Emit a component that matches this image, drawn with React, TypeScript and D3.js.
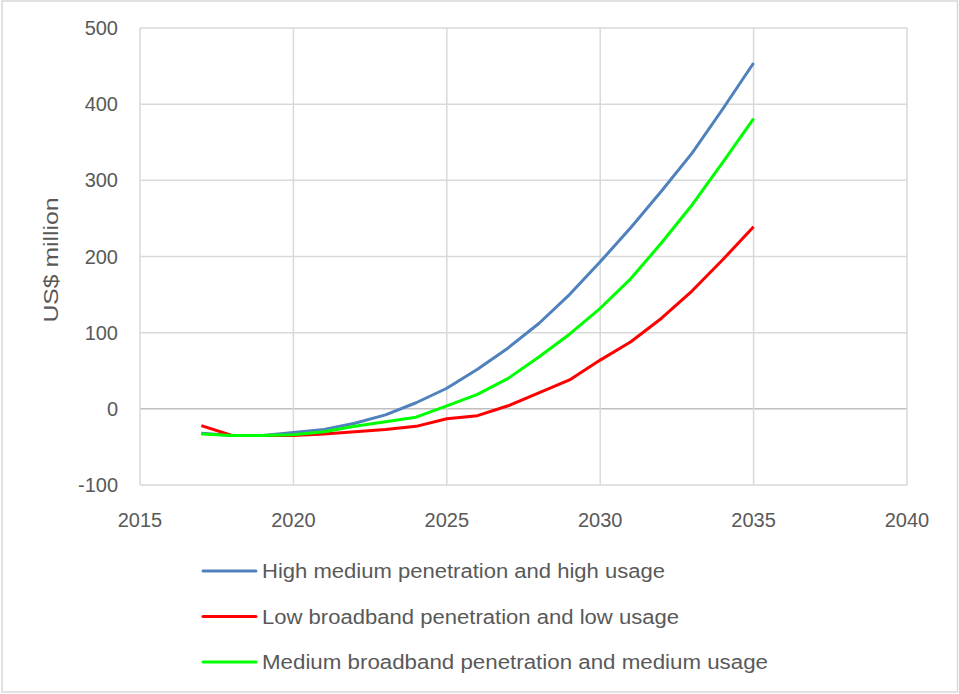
import React from "react";
import * as d3 from "d3";

const years = [2017, 2018, 2019, 2020, 2021, 2022, 2023, 2024, 2025, 2026, 2027, 2028, 2029, 2030, 2031, 2032, 2033, 2034, 2035];
const highSeries = [-32, -35, -35, -31, -27, -19, -8, 8, 27, 52, 80, 112, 150, 193, 238, 286, 336, 394, 454];
const lowSeries = [-22, -35, -35, -35, -33, -30, -27, -23, -13, -9, 4, 21, 38, 64, 88, 119, 155, 196, 239];
const mediumSeries = [-33, -35, -35, -34, -30, -23, -17, -11, 4, 19, 40, 68, 98, 132, 171, 218, 268, 324, 381];
const xTicks = [2015, 2020, 2025, 2030, 2035, 2040];
const yTicks = [-100, 0, 100, 200, 300, 400, 500];
const seriesNames = [
  "High medium penetration and high usage",
  "Low broadband penetration and low usage",
  "Medium broadband penetration and medium usage",
];
const seriesColors = ["#4f81bd", "#ff0000", "#00ff00"];
const legendWidths = [403, 417, 506];

export default function App() {
  const W = 959, H = 694;
  const left = 140, right = 907, top = 28, bottom = 485;
  const x = d3.scaleLinear().domain([2015, 2040]).range([left, right]);
  const y = d3.scaleLinear().domain([-100, 500]).range([bottom, top]);
  const line = d3.line<number>().x((_, i) => x(years[i])).y((d) => y(d));
  const all = [highSeries, lowSeries, mediumSeries];
  const font = "'Liberation Sans', Arial, sans-serif";
  const textColor = "#595959";
  const grid = "#d9d9d9";
  return (
    <svg width={W} height={H} style={{ position: "absolute", left: 0, top: 0, background: "#fff" }}>
      <rect x={2} y={1} width={W - 3.5} height={H - 3} fill="#fff" stroke={grid} strokeWidth={1.5} />
      {yTicks.map((t) => (
        <line key={"gy" + t} x1={left} x2={right} y1={y(t)} y2={y(t)} stroke={t === 0 ? "#bfbfbf" : grid} strokeWidth={1.5} />
      ))}
      {xTicks.map((t) => (
        <line key={"gx" + t} x1={x(t)} x2={x(t)} y1={top} y2={bottom} stroke={grid} strokeWidth={1.5} />
      ))}
      {yTicks.map((t) => (
        <text key={"ty" + t} x={118} y={y(t)} dy="0.35em" textAnchor="end" fontFamily={font} fontSize={20} fill={textColor}>
          {t}
        </text>
      ))}
      {xTicks.map((t) => (
        <text key={"tx" + t} x={x(t)} y={527} textAnchor="middle" fontFamily={font} fontSize={20} fill={textColor}>
          {t}
        </text>
      ))}
      <text transform={`translate(58,${260}) rotate(-90)`} textAnchor="middle" fontFamily={font} fontSize={21} fill={textColor} textLength={125} lengthAdjust="spacingAndGlyphs">
        US$ million
      </text>
      {all.map((s, i) => (
        <path key={"s" + i} d={line(s) || ""} fill="none" stroke={seriesColors[i]} strokeWidth={3} strokeLinejoin="round" />
      ))}
      {seriesNames.map((n, i) => {
        const ly = 571 + i * 45.5;
        return (
          <g key={"lg" + i}>
            <line x1={203} x2={256} y1={ly} y2={ly} stroke={seriesColors[i]} strokeWidth={3} strokeLinecap="round" />
            <text x={262} y={ly} dy="0.35em" fontFamily={font} fontSize={20} fill={textColor} textLength={legendWidths[i]} lengthAdjust="spacingAndGlyphs">
              {n}
            </text>
          </g>
        );
      })}
    </svg>
  );
}
